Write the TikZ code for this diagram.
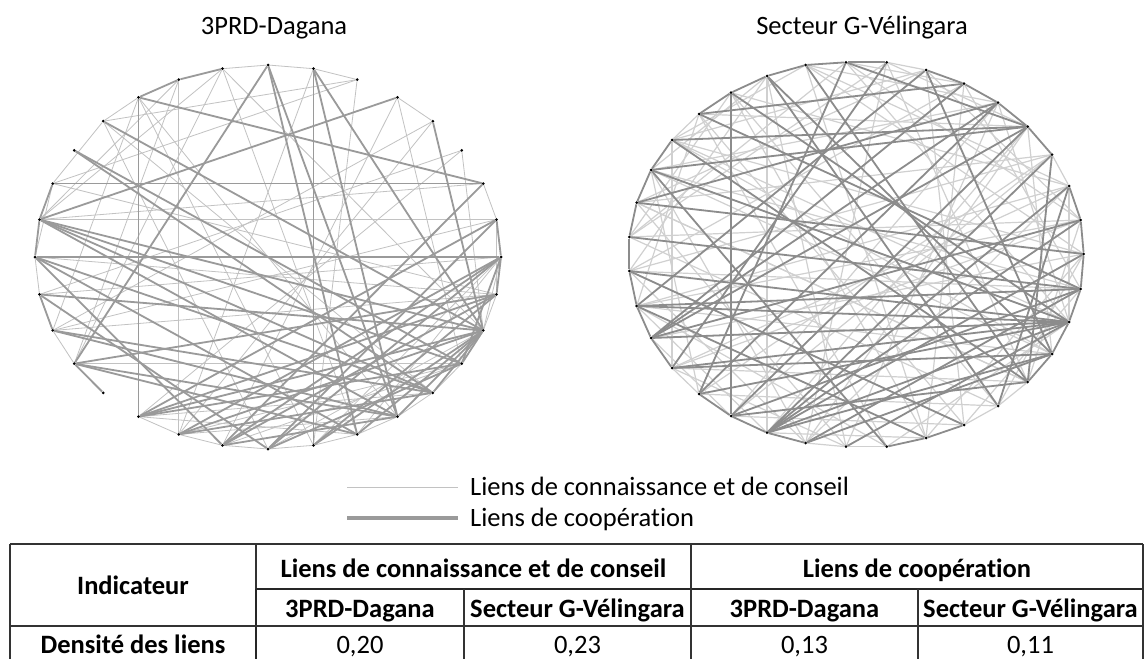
\documentclass[tikz,border=0pt]{standalone}
\usepackage{fontspec}
\setmainfont{Carlito}[Ligatures=NoCommon]
\usetikzlibrary{backgrounds}
\definecolor{thinA}{HTML}{C2C2C2}
\definecolor{thickA}{HTML}{9A9A9A}
\definecolor{thinB}{HTML}{D0D0D0}
\definecolor{thickB}{HTML}{8C8C8C}
\tikzset{
 dot/.style={circle,fill=black,inner sep=0pt,minimum size=3pt},
 lthin/.style={draw=thinA,line width=0.8pt},
 lthick/.style={draw=thickA,line width=1.8pt},
 rthin/.style={draw=thinB,line width=1.2pt},
 rthick/.style={draw=thickB,line width=1.8pt},
 txt/.style={font=\fontsize{26.5}{30}\selectfont,inner sep=0pt},
 btxt/.style={font=\fontsize{26.5}{30}\selectfont\bfseries,inner sep=0pt},
 rule/.style={draw=black!80,line width=1.2pt},
 bigrule/.style={draw=black!85,line width=2.4pt},
 legthin/.style={draw=thinA,line width=1pt},
 legthick/.style={draw=thickA,line width=3.5pt},
}
\begin{document}
\begin{tikzpicture}[x=1pt,y=-1pt]
\useasboundingbox (0,0) rectangle (1145,659);

% ---------- nodes of the left network ----------
\foreach \i in {0,...,31}
  \node[dot] (a\i) at ({268+233*cos(90-\i*11.25)},{257-192*sin(90-\i*11.25)}) {};

% ---------- nodes of the right network ----------
\foreach \j/\x/\y in {0/805.7/65, 1/846/62.3, 2/886.7/62.3, 3/926/70, 4/964/83.7,
  5/998/102.7, 6/1027.7/126.7, 7/1052/154.7, 8/1069/186, 9/1080.7/220,
  10/1083.7/254, 11/1080.7/289, 12/1069/322, 13/1052/354, 14/1027.7/382,
  15/998/406, 16/964/425, 17/926/438, 18/886.7/446.7, 19/846/446.7,
  20/805.7/443, 21/767/432.7, 22/731/416, 23/699/394, 24/672/368,
  25/651/338, 26/636.7/306, 27/629.3/271, 28/629.3/237, 29/636.7/202.7,
  30/651/170, 31/672/140, 32/699/114, 33/731/92.7, 34/767/76}
  \node[dot] (b\j) at (\x,\y) {};

\begin{pgfonlayer}{background}
\fill[white] (0,0) rectangle (1145,659);
% left: knowledge / advice links
\foreach \u/\v in {31/0, 0/1, 1/2, 31/10, 30/18, 25/7, 21/11, 2/28, 2/26, 2/15,
  3/17, 3/11, 4/22, 4/18, 5/23, 5/10, 6/25, 6/7, 21/30, 28/29, 26/28,
  30/25, 31/25, 29/15, 28/16, 22/23, 23/24, 22/21, 19/18, 18/17, 17/16,
  16/15, 15/14, 14/13, 13/12, 12/11, 10/9, 19/12, 18/11, 17/11, 16/10,
  15/8, 14/8, 22/9, 23/8, 24/9, 26/9, 5/19, 7/22, 1/18, 29/13, 28/12,
  31/14, 3/4, 8/10, 7/9, 29/22, 31/21, 24/26, 19/14, 18/13}
  \draw[lthin] (a\u) -- (a\v);
% left: cooperation links
\foreach \u/\v in {30/31, 29/30, 29/19, 1/15, 26/6, 24/8, 29/6, 28/10, 27/11,
  27/12, 25/3, 25/26, 0/21, 0/13, 0/14, 1/10, 1/13, 4/10, 6/17, 7/16,
  7/8, 21/20, 21/9, 21/13, 21/14, 23/10, 24/17, 23/16, 25/10, 25/11,
  25/12, 25/13, 25/24, 19/9, 19/10, 18/8, 18/10, 17/9, 16/8, 15/10,
  14/10, 22/12, 22/13, 24/14, 24/12, 18/12, 17/13, 16/11, 19/7, 15/9,
  13/10, 11/10, 12/10, 9/8, 8/11, 17/8, 19/11, 23/22}
  \draw[lthick] (a\u) -- (a\v);

% right: knowledge / advice links
\foreach \u/\v in {2/3, 7/8, 14/15, 15/16, 18/19, 19/20, 23/24, 31/32,
  34/21, 0/8, 0/17, 1/9, 2/28, 2/20, 3/31, 4/27, 5/30, 6/32, 7/29, 8/33,
  9/28, 10/31, 11/30, 13/31, 14/29, 15/28, 16/27, 17/33, 18/32, 19/34,
  20/8, 21/6, 22/5, 23/7, 24/9, 25/10, 26/8, 27/7, 29/14, 30/13, 31/12,
  32/16, 33/15, 0/10, 1/12, 2/14, 3/16, 4/17, 5/19, 6/20, 7/22, 8/24,
  9/26, 11/27, 12/25, 13/26, 14/24, 15/23, 16/22, 17/21, 18/26, 19/29,
  20/30, 23/30, 24/31, 26/32, 27/34, 28/1, 29/3, 0/5, 1/4, 2/6, 3/9,
  4/11, 5/12, 6/13, 10/15, 11/16, 12/18, 28/33, 30/34, 31/0, 22/25,
  21/26, 20/27, 19/24, 10/17, 9/14, 8/12}
  \draw[rthin] (b\u) -- (b\v);
% right: cooperation links
\foreach \u/\v in {34/0, 0/1, 1/2, 3/4, 4/5, 5/6, 6/7, 8/9, 9/10, 10/11,
  11/12, 12/13, 13/14, 16/17, 17/18, 20/21, 21/22, 22/23, 24/25, 25/26,
  26/27, 27/28, 28/29, 29/30, 30/31, 32/33, 33/34,
  30/12, 28/11, 27/12, 26/12, 25/6, 25/5, 24/13, 34/13, 3/26, 3/13,
  33/12, 33/22, 32/11, 29/10, 31/14, 26/11, 25/12, 24/12, 21/7, 21/8,
  21/9, 21/10, 22/11, 22/6, 23/5, 20/13, 19/12, 23/12, 0/14, 1/23,
  2/24, 4/25, 5/29, 6/30, 7/14, 8/15, 34/15, 32/4, 31/6, 26/17, 27/16,
  30/18, 1/6, 9/25, 21/12, 21/13, 22/14, 20/11}
  \draw[rthick] (b\u) -- (b\v);
\end{pgfonlayer}

% ---------- titles ----------
\node[txt,anchor=base] (t1) at (274,34) {3PRD-Dagana};
\node[txt,anchor=base] (t2) at (862,34) {Secteur G-Vélingara};

% ---------- legend ----------
\coordinate (l1a) at (347,487);
\coordinate (l1b) at (458,487);
\coordinate (l2a) at (347,518);
\coordinate (l2b) at (458,518);
\draw[legthin] (l1a) -- (l1b);
\draw[legthick] (l2a) -- (l2b);
\node[txt,anchor=base west] (lt1) at (470,495) {Liens de connaissance et de conseil};
\node[txt,anchor=base west] (lt2) at (470,526) {Liens de coopération};

% ---------- table ----------
\draw[rule] (10,544) -- (1143,544);
\draw[rule] (10,544) -- (10,659);
\draw[rule] (256,544) -- (256,589);
\draw[bigrule] (256,589) -- (256,659);
\draw[bigrule] (256,589) -- (1143,589);
\draw[rule] (10,626) -- (1143,626);
\draw[rule] (464,589) -- (464,659);
\draw[rule] (691,544) -- (691,659);
\draw[rule] (918,589) -- (918,659);
\draw[rule] (1143,544) -- (1143,659);

\node[btxt] (h0) at (133,585) {Indicateur};
\node[btxt,anchor=base] (h1) at (473.5,577) {Liens de connaissance et de conseil};
\node[btxt,anchor=base] (h2) at (917,577) {Liens de coopération};
\node[btxt,anchor=base] (s1) at (360,617.5) {3PRD-Dagana};
\node[btxt,anchor=base] (s2) at (577.5,617.5) {Secteur G-Vélingara};
\node[btxt,anchor=base] (s3) at (804.5,617.5) {3PRD-Dagana};
\node[btxt,anchor=base] (s4) at (1030.5,617.5) {Secteur G-Vélingara};
\node[btxt,anchor=base] (r0) at (133,653) {Densité des liens};
\node[txt,anchor=base] (v1) at (360,653) {0,20};
\node[txt,anchor=base] (v2) at (577.5,653) {0,23};
\node[txt,anchor=base] (v3) at (804.5,653) {0,13};
\node[txt,anchor=base] (v4) at (1030.5,653) {0,11};
\end{tikzpicture}
\end{document}
